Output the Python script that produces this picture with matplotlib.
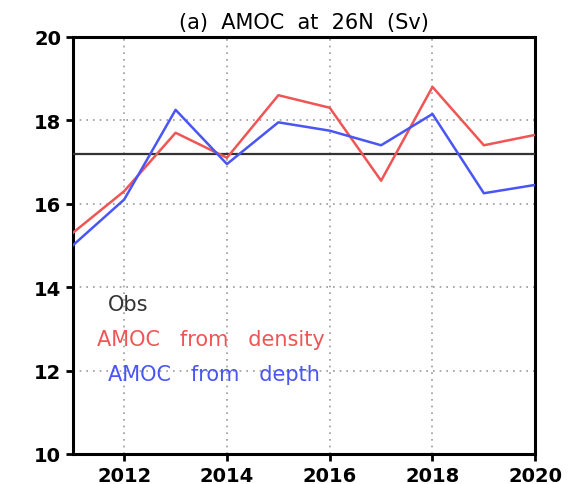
import matplotlib.pyplot as plt
import numpy as np

years = np.arange(2011, 2021)
amoc_density = [15.3, 16.3, 17.7, 17.1, 18.6, 18.3, 16.55, 18.8, 17.4, 17.65]
amoc_depth = [15.0, 16.1, 18.25, 16.95, 17.95, 17.75, 17.4, 18.15, 16.25, 16.45]
obs_mean = 17.2

RED = "#f05555"
BLUE = "#4a55f5"

fig = plt.figure(figsize=(5.78, 4.85), dpi=100)
ax = fig.add_axes([0.126, 0.062, 0.8, 0.86])

ax.axhline(obs_mean, color="#333333", linewidth=1.6, zorder=3)
ax.plot(years, amoc_density, color=RED, linewidth=1.8, zorder=4)
ax.plot(years, amoc_depth, color=BLUE, linewidth=1.8, zorder=4)

ax.set_xlim(2011, 2020)
ax.set_ylim(10, 20)
ax.set_xticks([2012, 2014, 2016, 2018, 2020])
ax.set_yticks([10, 12, 14, 16, 18, 20])
ax.tick_params(axis="both", labelsize=14, width=2, length=5, direction="out")
ax.tick_params(top=False, right=False)
for lab in ax.get_xticklabels() + ax.get_yticklabels():
    lab.set_fontweight("bold")
ax.grid(True, color="#999999", linestyle=(0, (1, 3)), linewidth=1.2)

for side in ["left", "bottom"]:
    ax.spines[side].set_linewidth(2.2)
for side in ["top", "right"]:
    ax.spines[side].set_linewidth(2.2)
    ax.spines[side].set_linestyle((0, (1, 1)))

ax.set_title("(a)  AMOC  at  26N  (Sv)", fontsize=15, pad=6)

ax.text(2011.68, 13.6, "Obs", color="#333333", fontsize=15, va="center")
ax.text(2011.47, 12.76, "AMOC   from   density", color=RED, fontsize=15, va="center")
ax.text(2011.68, 11.92, "AMOC   from   depth", color=BLUE, fontsize=15, va="center")

fig.savefig("out.png", dpi=100)
